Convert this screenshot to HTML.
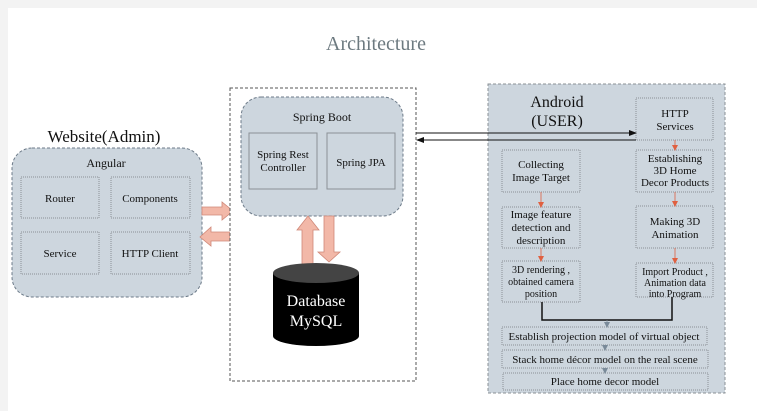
<!DOCTYPE html>
<html><head><meta charset="utf-8"><style>
html,body{margin:0;padding:0;background:#f3f3f3;}
svg{display:block}
text{font-family:"Liberation Serif",serif;fill:#111;}
</style></head><body>
<svg width="757" height="411" viewBox="0 0 757 411" xmlns="http://www.w3.org/2000/svg">
<defs>
<marker id="ah" markerWidth="8" markerHeight="8" refX="7" refY="4" orient="auto" markerUnits="userSpaceOnUse"><path d="M0,1 L8,4 L0,7 z" fill="#111"/></marker>
<marker id="ra" markerWidth="6" markerHeight="6" refX="5" refY="3" orient="auto" markerUnits="userSpaceOnUse"><path d="M0,0 L6,3 L0,6 z" fill="#e06040"/></marker>
<marker id="ga" markerWidth="6" markerHeight="6" refX="5" refY="3" orient="auto" markerUnits="userSpaceOnUse"><path d="M0,0 L6,3 L0,6 z" fill="#7a8a99"/></marker>
</defs>
<rect x="8" y="8" width="749" height="403" fill="#fff"/>
<text x="376" y="50" text-anchor="middle" font-size="20" style="fill:#6d7a80">Architecture</text>

<!-- Website -->
<text x="104" y="142" text-anchor="middle" font-size="17">Website(Admin)</text>
<rect x="12" y="148" width="190" height="149" rx="20" fill="#cdd6de" stroke="#6c7a88" stroke-dasharray="3,2"/>
<text x="106" y="167" text-anchor="middle" font-size="12">Angular</text>
<g fill="#cdd6de" stroke="#8a9096" stroke-dasharray="1,1">
<rect x="21" y="177" width="78" height="41"/><rect x="111" y="177" width="79" height="41"/>
<rect x="21" y="232" width="78" height="42"/><rect x="111" y="232" width="79" height="42"/>
</g>
<g font-size="11" text-anchor="middle">
<text x="60" y="202">Router</text><text x="150" y="202">Components</text>
<text x="60" y="257">Service</text><text x="150" y="257">HTTP Client</text>
</g>
<path d="M202,207 H222 V202 L233,211 L222,220 V215 H202 z" fill="#f2b8a8" stroke="#d08878" stroke-width="0.8"/>
<path d="M230,232 H211 V227 L200,237 L211,246 V241 H230 z" fill="#f2b8a8" stroke="#d08878" stroke-width="0.8"/>

<!-- server -->
<rect x="230" y="88" width="186" height="293" fill="#fff" stroke="#555" stroke-dasharray="3,2"/>
<rect x="241" y="97" width="162" height="119" rx="20" fill="#cdd6de" stroke="#6c7a88" stroke-dasharray="3,2"/>
<text x="322" y="121" text-anchor="middle" font-size="12">Spring Boot</text>
<rect x="249" y="133" width="68" height="56" fill="#cdd6de" stroke="#8a9096"/>
<rect x="327" y="133" width="68" height="56" fill="#cdd6de" stroke="#8a9096"/>
<text x="283" y="158" text-anchor="middle" font-size="11">Spring Rest</text>
<text x="283" y="171" text-anchor="middle" font-size="11">Controller</text>
<text x="361" y="166" text-anchor="middle" font-size="11">Spring JPA</text>
<path d="M302,264 V230 H297 L308,216 L319,230 H313 V264 z" fill="#f2b8a8" stroke="#d08878" stroke-width="0.8"/>
<path d="M324,216 H334 V252 H340 L329,262 L318,252 H324 z" fill="#f2b8a8" stroke="#d08878" stroke-width="0.8"/>
<path d="M273,273 V336 A43,10 0 0 0 359,336 V273 z" fill="#000"/>
<ellipse cx="316" cy="273" rx="43" ry="10" fill="#444"/>
<text x="316" y="306" text-anchor="middle" font-size="16" style="fill:#fff">Database</text>
<text x="316" y="326" text-anchor="middle" font-size="16" style="fill:#fff">MySQL</text>

<!-- Android -->
<rect x="488" y="84" width="237" height="309" fill="#cdd6de" stroke="#8a9096" stroke-dasharray="3,2"/>
<text x="557" y="107" text-anchor="middle" font-size="16">Android</text>
<text x="557" y="126" text-anchor="middle" font-size="16">(USER)</text>
<g fill="#cdd6de" stroke="#8a9096" stroke-dasharray="1,1">
<rect x="636" y="98" width="77" height="42"/>
<rect x="636" y="150" width="77" height="42"/>
<rect x="636" y="206" width="77" height="42"/>
<rect x="636" y="263" width="77" height="34"/>
<rect x="502" y="150" width="78" height="42"/>
<rect x="502" y="207" width="78" height="41"/>
<rect x="502" y="261" width="78" height="41"/>
<rect x="502" y="327" width="205" height="18"/>
<rect x="502" y="350" width="206" height="18"/>
<rect x="503" y="373" width="205" height="17"/>
</g>
<g font-size="11" text-anchor="middle">
<text x="675" y="117">HTTP</text><text x="675" y="130">Services</text>
<text x="675" y="162">Establishing</text><text x="675" y="174">3D Home</text><text x="675" y="186">Decor Products</text>
<text x="675" y="225">Making 3D</text><text x="675" y="238">Animation</text>
<text x="675" y="275" font-size="10">Import Product ,</text><text x="675" y="286" font-size="10">Animation data</text><text x="675" y="297" font-size="10">into Program</text>
<text x="541" y="168">Collecting</text><text x="541" y="181">Image Target</text>
<text x="541" y="218">Image feature</text><text x="541" y="231">detection and</text><text x="541" y="244">description</text>
<text x="541" y="273" font-size="10">3D rendering ,</text><text x="541" y="285" font-size="10">obtained camera</text><text x="541" y="297" font-size="10">position</text>
<text x="604" y="340">Establish projection model of virtual object</text>
<text x="605" y="363">Stack home décor model on the real scene</text>
<text x="605" y="385">Place home decor model</text>
</g>
<g stroke="#e06040" stroke-width="0.8">
<line x1="675" y1="140" x2="675" y2="150" marker-end="url(#ra)"/>
<line x1="675" y1="192" x2="675" y2="206" marker-end="url(#ra)"/>
<line x1="675" y1="248" x2="675" y2="263" marker-end="url(#ra)"/>
<line x1="541" y1="192" x2="541" y2="207" marker-end="url(#ra)"/>
<line x1="541" y1="248" x2="541" y2="261" marker-end="url(#ra)"/>
</g>
<path d="M542,302 V320 H672 V297" fill="none" stroke="#111" stroke-width="1.5"/>
<g stroke="#7a8a99" stroke-width="0.8">
<line x1="607" y1="320" x2="607" y2="327" marker-end="url(#ga)"/>
<line x1="605" y1="345" x2="605" y2="350" marker-end="url(#ga)"/>
<line x1="605" y1="368" x2="605" y2="373" marker-end="url(#ga)"/>
</g>

<!-- connectors (on top) -->
<line x1="416" y1="133" x2="636" y2="133" stroke="#111" marker-end="url(#ah)"/>
<line x1="636" y1="140" x2="417" y2="140" stroke="#111" marker-end="url(#ah)"/>
</svg>
</body></html>
